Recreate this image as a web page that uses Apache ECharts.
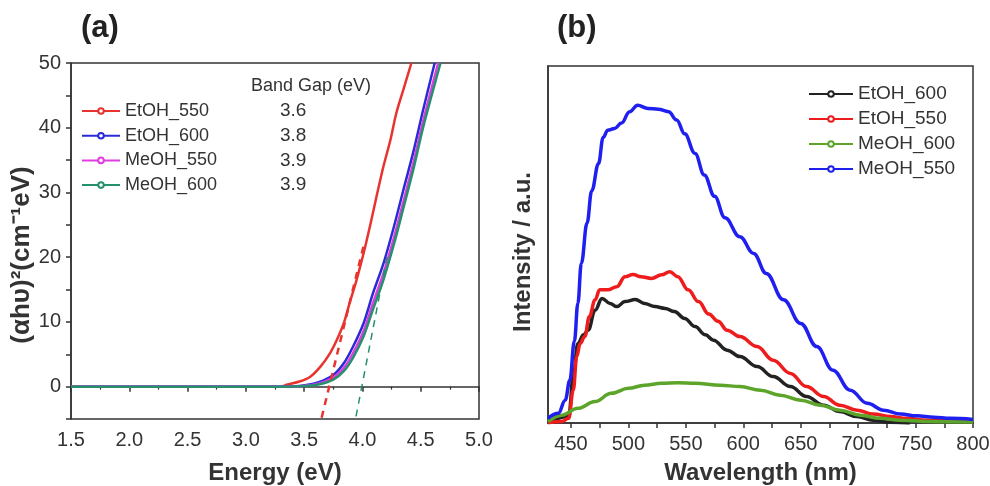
<!DOCTYPE html>
<html>
<head>
<meta charset="utf-8">
<script src="https://cdn.jsdelivr.net/npm/echarts@6/dist/echarts.min.js"></script>
<style>
  html, body { margin: 0; padding: 0; background: #fff; }
  #chart { width: 990px; height: 486px; }
</style>
</head>
<body>
<div id="chart"></div>
<script>
// panel (a): Tauc plot
const flatEnergy = [1.5, 1.55, 1.6, 1.65, 1.7, 1.75, 1.8, 1.85, 1.9, 1.95, 2.0, 2.05, 2.1, 2.15, 2.2, 2.25, 2.3, 2.35, 2.4,
  2.45, 2.5, 2.55, 2.6, 2.65, 2.7, 2.75, 2.8, 2.85, 2.9, 2.95, 3.0, 3.05, 3.1, 3.15, 3.2, 3.25, 3.3]
const flatAbs = [0, 0, 0, 0, 0, 0, 0, 0, 0, 0, 0, 0, 0, 0, 0, 0, 0, 0, 0,
  0, 0, 0, 0, 0, 0, 0, 0, 0, 0, 0, 0, 0, 0, 0, 0, 0, 0]

const etoh550Energy = [3.35, 3.46, 3.55, 3.64, 3.72, 3.78, 3.84, 3.89, 3.95, 4.01, 4.07, 4.12, 4.18, 4.24, 4.29, 4.35, 4.42]
const etoh550Abs = [0.3, 0.8, 1.5, 3.1, 5.1, 7.2, 9.8, 12.9, 16.5, 20.6, 25.2, 29.3, 34, 38.1, 42.2, 45.8, 50]
const etoh600Energy = [3.46, 3.61, 3.75, 3.84, 3.92, 4.01, 4.09, 4.18, 4.27, 4.35, 4.44, 4.52, 4.62]
const etoh600Abs = [0.1, 0.6, 1.8, 3.6, 6.2, 9.8, 14.4, 19, 24.7, 30.3, 36.5, 42.7, 50]
const meoh550Energy = [3.46, 3.61, 3.75, 3.84, 3.92, 4.01, 4.09, 4.18, 4.27, 4.35, 4.44, 4.52, 4.65]
const meoh550Abs = [0.05, 0.4, 1.4, 2.9, 5.2, 8.6, 12.9, 17.5, 23, 28.5, 34.8, 41, 50]
const meoh600Energy = [3.46, 3.61, 3.75, 3.84, 3.92, 4.01, 4.09, 4.18, 4.27, 4.35, 4.44, 4.52, 4.67]
const meoh600Abs = [0.05, 0.3, 1.1, 2.4, 4.5, 7.8, 11.9, 16.5, 22, 27.5, 33.8, 40, 50]

const redTangentEnergy = [3.65, 4.02]
const redTangentAbs = [-4.8, 22.5]
const greenTangentEnergy = [3.945, 4.21]
const greenTangentAbs = [-4.6, 20]

const bandGapNames = ['EtOH_550', 'EtOH_600', 'MeOH_550', 'MeOH_600']
const bandGaps = ['3.6', '3.8', '3.9', '3.9']

// panel (b): PL spectra
const etoh600Wl = [430, 448, 452, 456, 461, 465, 471, 477, 484, 490, 497, 506, 514, 523, 532, 540, 549, 558, 567, 574,
  586, 597, 612, 626, 641, 655, 670, 684, 699, 713, 728, 745]
const etoh600Int = [0.1, 1.8, 13, 22.3, 24.7, 26, 31.6, 34.9, 33.5, 32.6, 34, 34.6, 33.5, 32.6, 32.1, 31.2, 29.3, 27, 24.7, 23.2,
  20.4, 18.6, 15.8, 13, 10.2, 7.4, 5, 3.2, 1.8, 0.8, 0.2, 0]
const etoh550Wl = [430, 442, 448, 452, 455, 458, 462, 466, 471, 475, 482, 490, 497, 504, 511, 520, 529, 536, 543, 552,
  561, 570, 578, 586, 597, 612, 626, 641, 655, 670, 684, 699, 713, 728, 742, 760, 777, 800]
const etoh550Int = [0.1, 0.4, 1.3, 9.2, 18.6, 22.3, 24.2, 29.8, 34.5, 37.3, 37.3, 38.2, 41, 41.6, 41, 40.5, 41.5, 42.4, 41, 37.3,
  34, 30.5, 28.5, 26, 24.2, 21.4, 17.6, 13.9, 10.2, 7.4, 5, 3.6, 2.5, 1.8, 1.3, 0.8, 0.6, 0.5]
const meoh600Wl = [430, 442, 456, 471, 485, 500, 514, 529, 543, 558, 580, 597, 615, 632, 650, 667, 684, 702, 719, 737, 760, 800]
const meoh600Int = [0.4, 2.2, 4.1, 6, 8.3, 9.7, 10.6, 11.1, 11.3, 11.1, 10.6, 10.2, 9.2, 7.8, 6.4, 5, 3.6, 2.2, 1.3, 0.8, 0.4, 0.3]
const meoh550Wl = [430, 439, 445, 449, 453, 456, 459, 464, 468, 474, 478, 482, 488, 494, 501, 508, 517, 526, 535, 542,
  549, 558, 566, 575, 584, 597, 609, 620, 635, 650, 664, 678, 693, 708, 722, 737, 751, 766, 780, 800]
const meoh550Int = [1.3, 2.7, 6.4, 12, 23, 33.5, 44.7, 56, 65, 72.7, 80, 82, 82.5, 84, 87.2, 89, 88.1, 87.9, 87.2, 84.9,
  81, 75.5, 69.5, 63.5, 57.5, 52.2, 47.5, 41.9, 34.5, 27.9, 21.4, 14.8, 9.2, 5.5, 3.6, 2.5, 2, 1.6, 1.3, 1]

const wlLabels = [450, 500, 550, 600, 650, 700, 750, 800]
const wlTicks = [450, 475, 500, 525, 550, 575, 600, 625, 650, 675, 700, 725, 750, 775, 800]

function zip(xs, ys) {
  return xs.map((x, i) => [x, ys[i]])
}

const font = '"Liberation Sans", Arial, sans-serif'
const axisLineStyle = { color: '#333', width: 1.5 }

function tauc(name, color, energy, abs, z) {
  return {
    name: name,
    type: 'line',
    xAxisIndex: 0,
    yAxisIndex: 0,
    data: zip(flatEnergy, flatAbs).concat(zip(energy, abs)),
    symbol: 'emptyCircle',
    symbolSize: 4,
    showSymbol: false,
    smooth: 0.3,
    z: z,
    color: color,
    lineStyle: { width: 2.5, color: color }
  }
}

function tangent(color, energy, abs, width) {
  return {
    type: 'line',
    xAxisIndex: 0,
    yAxisIndex: 0,
    data: zip(energy, abs),
    symbol: 'none',
    silent: true,
    z: 10,
    lineStyle: { color: color, width: width, type: [7, 6] }
  }
}

function spectrum(name, color, wl, intensity) {
  return {
    name: name,
    type: 'line',
    xAxisIndex: 1,
    yAxisIndex: 1,
    data: zip(wl, intensity),
    symbol: 'emptyCircle',
    symbolSize: 4,
    showSymbol: false,
    smooth: 0.4,
    smoothMonotone: 'x',
    color: color,
    lineStyle: { width: 3.5, color: color }
  }
}

const chart = echarts.init(document.getElementById('chart'))

chart.setOption({
  animation: false,
  textStyle: { fontFamily: font },
  title: [
    { text: '(a)', left: 76, top: 8, textStyle: { fontSize: 31, fontWeight: 'bold', color: '#222' } },
    { text: '(b)', left: 552, top: 8, textStyle: { fontSize: 31, fontWeight: 'bold', color: '#222' } }
  ],
  grid: [
    { left: 71, right: 511, top: 63, bottom: 67, outerBoundsMode: 'none', show: true, borderColor: '#333', borderWidth: 1.5 },
    { left: 548, right: 17, top: 66, bottom: 63, outerBoundsMode: 'none', show: true, borderColor: '#333', borderWidth: 1.5 }
  ],
  legend: [
    {
      data: bandGapNames,
      orient: 'vertical',
      left: 76,
      top: 96,
      itemWidth: 38,
      itemHeight: 7,
      itemGap: 4.7,
      textStyle: { fontSize: 18, color: '#333', lineHeight: 20 }
    },
    {
      data: ['EtOH_600 ', 'EtOH_550 ', 'MeOH_600 ', 'MeOH_550 '],
      formatter: n => n.trim(),
      orient: 'vertical',
      left: 803,
      top: 79,
      itemWidth: 44,
      itemHeight: 7,
      itemGap: 5,
      textStyle: { fontSize: 19, color: '#333', lineHeight: 20 }
    }
  ],
  xAxis: [
    {
      gridIndex: 0,
      type: 'value',
      min: 1.5,
      max: 5,
      interval: 0.5,
      name: 'Energy (eV)',
      nameLocation: 'middle',
      nameGap: 42,
      nameTextStyle: { fontSize: 24, fontWeight: 'bold', color: '#333' },
      axisLine: { lineStyle: axisLineStyle },
      axisTick: { length: 5, lineStyle: axisLineStyle },
      minorTick: { show: true, splitNumber: 2, length: 3, lineStyle: { color: '#333', width: 1.2 } },
      axisLabel: { fontSize: 20, color: '#333', margin: 11, formatter: v => v.toFixed(1) },
      splitLine: { show: false }
    },
    {
      gridIndex: 1,
      type: 'value',
      min: 430,
      max: 800,
      name: 'Wavelength (nm)',
      nameLocation: 'middle',
      nameGap: 38,
      nameTextStyle: { fontSize: 24, fontWeight: 'bold', color: '#333' },
      axisLine: { lineStyle: axisLineStyle },
      axisTick: { length: 5, lineStyle: axisLineStyle, customValues: wlTicks },
      axisLabel: { fontSize: 20, color: '#333', margin: 11, customValues: wlLabels },
      splitLine: { show: false }
    }
  ],
  yAxis: [
    {
      gridIndex: 0,
      type: 'value',
      min: -5,
      max: 50,
      interval: 5,
      name: '(αhυ)²(cm⁻¹eV)',
      nameLocation: 'middle',
      nameGap: 33,
      nameTextStyle: { fontSize: 26, fontWeight: 'bold', color: '#333', padding: [0, 28, 0, 0] },
      axisLine: { lineStyle: axisLineStyle },
      axisTick: { length: 5, lineStyle: axisLineStyle },
      axisLabel: {
        fontSize: 20,
        color: '#333',
        margin: 10,
        formatter: v => (v >= 0 && v % 10 === 0 ? String(v) : '')
      },
      splitLine: { show: false }
    },
    {
      gridIndex: 1,
      type: 'value',
      min: 0,
      max: 100,
      name: 'Intensity / a.u.',
      nameLocation: 'middle',
      nameGap: 13,
      nameTextStyle: { fontSize: 24, fontWeight: 'bold', color: '#333', padding: [0, 15, 0, 0] },
      axisLine: { lineStyle: axisLineStyle },
      axisTick: { show: false },
      axisLabel: { show: false },
      splitLine: { show: false }
    }
  ],
  graphic: [
    {
      type: 'text',
      x: 251,
      y: 86,
      style: { text: 'Band Gap (eV)', font: '18px ' + font, fill: '#333', verticalAlign: 'middle' }
    }
  ].concat(bandGaps.map((g, i) => ({
    type: 'text',
    x: 280,
    y: 111 + i * 24.7,
    style: { text: g, font: '19px ' + font, fill: '#333', verticalAlign: 'middle' }
  }))),
  series: [
    tauc('EtOH_550', '#e8332f', etoh550Energy, etoh550Abs, 2),
    tauc('EtOH_600', '#2b2bd6', etoh600Energy, etoh600Abs, 3),
    tauc('MeOH_550', '#e03ce0', meoh550Energy, meoh550Abs, 4),
    tauc('MeOH_600', '#24906e', meoh600Energy, meoh600Abs, 5),
    tangent('#e8332f', redTangentEnergy, redTangentAbs, 2.5),
    tangent('#24906e', greenTangentEnergy, greenTangentAbs, 1.5),
    spectrum('EtOH_600 ', '#222222', etoh600Wl, etoh600Int),
    spectrum('EtOH_550 ', '#ee1c1c', etoh550Wl, etoh550Int),
    spectrum('MeOH_600 ', '#5ca52a', meoh600Wl, meoh600Int),
    spectrum('MeOH_550 ', '#1f1ff0', meoh550Wl, meoh550Int)
  ]
})
</script>
</body>
</html>
